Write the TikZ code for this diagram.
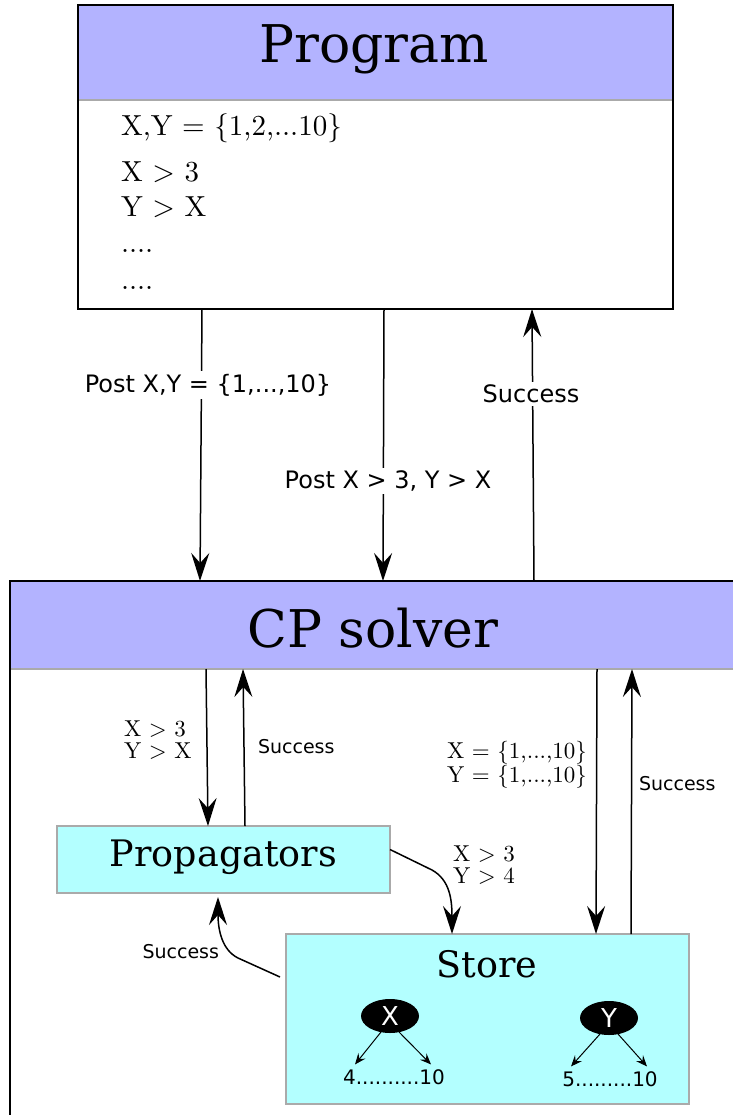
\RequirePackage{fix-cm}
\documentclass[tikz,border=0pt]{standalone}
\usepackage{fontspec}
\newfontfamily\titlefont{DejaVu Serif}
\newfontfamily\labelfont{DejaVu Sans}
\newfontfamily\cmfont{lmroman10-regular.otf}
\usetikzlibrary{positioning,arrows.meta,shapes.geometric}
\definecolor{headblue}{RGB}{179,179,255}
\definecolor{paleaqua}{RGB}{179,255,255}
\definecolor{edgegray}{RGB}{170,170,170}

\begin{document}
\begin{tikzpicture}[x=1pt, y=-1pt, line width=1.4pt,
    every node/.style={inner sep=0pt, outer sep=0pt},
    flow/.style={-{Stealth[length=28pt,width=18pt,inset=10pt]}, line width=1.5pt},
    tinyflow/.style={-{Stealth[length=11pt,width=9pt,inset=4pt]}, line width=1pt},
    bigtitle/.style={font=\titlefont\fontsize{52}{60}\selectfont},
    boxtitle/.style={font=\titlefont\fontsize{36.5}{44}\selectfont},
    postlabel/.style={font=\labelfont\fontsize{24}{28}\selectfont, fill=white, inner sep=3pt},
    oklabel/.style={font=\labelfont\fontsize{19}{23}\selectfont},
    condlabel/.style={font=\cmfont\fontsize{23}{21.5}\selectfont, align=left},
    aquabox/.style={draw=edgegray, fill=paleaqua, line width=1.5pt},
    varnode/.style={ellipse, fill=black, text=white, minimum width=58pt, minimum height=34pt, font=\labelfont\fontsize{26}{30}\selectfont},
    rangelabel/.style={font=\labelfont\fontsize{20}{24}\selectfont}]
  \useasboundingbox (0,0) rectangle (732,1115);

  % program
  \node[fill=headblue, minimum width=595pt, minimum height=95pt] (progtitle) at (375.5,52.5) {};
  \node[bigtitle] (progname) at (374,49) {Program};
  \node[draw, minimum width=595pt, minimum height=304pt] (prog) at (375.5,157) {};
  \draw[edgegray, line width=1.2pt] ([xshift=1pt]progtitle.south west) -- ([xshift=-1pt]progtitle.south east);
  \node[anchor=north west, align=left, font=\cmfont\fontsize{29}{35.5}\selectfont] (progcode) at (121,114)
    {X,Y = \{1,2,...10\}\\[10pt] X > 3\\ Y > X\\ ....\\[2pt] ....};

  % cp solver
  \node[fill=headblue, minimum width=730pt, minimum height=88pt] (cptitle) at (375,625) {};
  \node[bigtitle] (cpname) at (373,628) {CP solver};
  \node[draw, minimum width=730pt, minimum height=544pt] (cp) at (375,853) {};
  \draw[edgegray, line width=1.2pt] ([xshift=1pt]cptitle.south west) -- (cptitle.south east);

  % program <-> solver
  \draw[flow] ([xshift=-173.5pt]prog.south) -- ([xshift=-175pt]cp.north);
  \node[postlabel] (postdom) at (208,385) {Post X,Y = \{1,...,10\}};
  \draw[flow] ([xshift=8.5pt]prog.south) -- ([xshift=8pt]cp.north);
  \node[postlabel] (postcons) at (388,481) {Post X > 3, Y > X};
  \draw[flow] ([xshift=159pt]cp.north) -- ([xshift=156.5pt]prog.south);
  \node[postlabel] (progok) at (531,394) {Success};

  % inner boxes
  \node[aquabox, minimum width=333pt, minimum height=67pt] (prop) at (223.5,859.5) {};
  \node[boxtitle] (propname) at (223.5,857) {Propagators};
  \node[aquabox, minimum width=403pt, minimum height=170pt] (store) at (487.5,1019) {};
  \node[boxtitle] (storename) at (487,964) {Store};

  % solver <-> propagators, store
  \draw[flow] ([xshift=-169pt]cptitle.south) -- ([xshift=-15.5pt]prop.north);
  \node[condlabel, anchor=west] (propcons) at (124,740) {X > 3\\Y > X};
  \draw[flow] ([xshift=21.5pt]prop.north) -- ([xshift=-132pt]cptitle.south);
  \node[oklabel, anchor=west] (propok) at (258,747) {Success};
  \draw[flow] ([xshift=222pt]cptitle.south) -- ([xshift=108.5pt]store.north);
  \node[condlabel, anchor=west] (storedom) at (447,765) {X = \{1,...,10\}\\Y = \{1,...,10\}};
  \draw[flow] ([xshift=143.5pt]store.north) -- ([xshift=257pt]cptitle.south);
  \node[oklabel, anchor=west] (storeok) at (639,784) {Success};

  % propagators <-> store
  \coordinate (bendin) at (432,870);
  \coordinate (bendout) at (238,958);
  \draw[flow] ([yshift=10pt]prop.east) -- (bendin) .. controls (450,880) and (452,900) .. ([xshift=-35.5pt]store.north);
  \node[condlabel, anchor=west] (narrowed) at (453,865) {X > 3\\Y > 4};
  \draw[flow, shorten >=4pt] ([xshift=-6pt,yshift=42pt]store.west) -- (bendout) .. controls (222,950) and (218,930) .. ([xshift=-5.5pt]prop.south);
  \node[oklabel, anchor=east] (storeback) at (219,952) {Success};

  % variables in the store
  \node[varnode] (xvar) at (390,1016) {X};
  \node[rangelabel] (xrange) at (394,1077) {4..........10};
  \node[varnode] (yvar) at (609,1018) {Y};
  \node[rangelabel] (yrange) at (610,1079) {5.........10};
  \foreach \v/\r in {xvar/xrange, yvar/yrange} {
    \draw[tinyflow] ([xshift=-9pt,yshift=1pt]\v.south) -- ([xshift=-39pt,yshift=5pt]\r.north);
    \draw[tinyflow] ([xshift=9pt,yshift=1pt]\v.south) -- ([xshift=37pt,yshift=5pt]\r.north);
  }
\end{tikzpicture}
\end{document}
